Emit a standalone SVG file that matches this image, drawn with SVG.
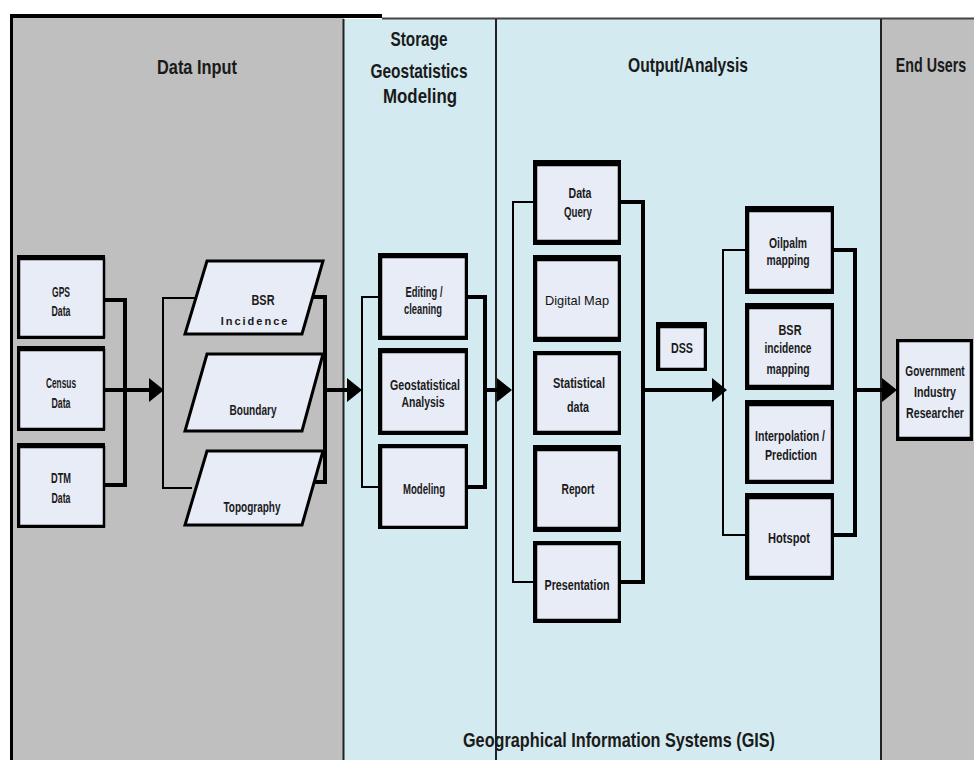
<svg xmlns="http://www.w3.org/2000/svg" width="974" height="760" viewBox="0 0 974 760">
<style>
.t{font-family:"Liberation Sans",Arial,sans-serif;font-weight:bold;fill:#1a1a1a;text-anchor:middle}
.h{font-size:21px}
.n{font-size:14px}
.box{fill:#e8ecf6;stroke:#000;stroke-width:2.5}
.sh{fill:#000}
.c{fill:none;stroke:#000;stroke-linejoin:miter}
.w2{stroke-width:2}
.w4{stroke-width:4}
.ah{fill:#000}
</style>
<rect width="974" height="760" fill="#fff"/>
<g id="panels">
<rect x="10" y="17" width="334" height="750" fill="#bfbfbf"/>
<rect x="344" y="19" width="152" height="750" fill="#d3eaf0"/>
<rect x="496" y="19" width="385" height="750" fill="#d3eaf0"/>
<rect x="881" y="19" width="93" height="750" fill="#bfbfbf"/>
<path d="M382,18.5 H974" stroke="#444" stroke-width="2" fill="none"/>
<rect x="10" y="14" width="372" height="4" fill="#000"/>
<rect x="10" y="14" width="3" height="750" fill="#000"/>
<path d="M343.5,19 V760 M496,19 V760 M881,19 V760" stroke="#222" stroke-width="2" fill="none"/>
<text class="t h" x="197" y="74" textLength="80" lengthAdjust="spacingAndGlyphs">Data Input</text>
<text class="t h" x="419" y="46" textLength="57" lengthAdjust="spacingAndGlyphs">Storage</text>
<text class="t h" x="419" y="78" textLength="97" lengthAdjust="spacingAndGlyphs">Geostatistics</text>
<text class="t h" x="420" y="103" textLength="74" lengthAdjust="spacingAndGlyphs">Modeling</text>
<text class="t h" x="688" y="72" textLength="120" lengthAdjust="spacingAndGlyphs">Output/Analysis</text>
<text class="t h" transform="translate(931,72) scale(0.68,1)" x="0" y="0">End Users</text>
<text class="t h" x="619" y="747" textLength="312" lengthAdjust="spacingAndGlyphs">Geographical Information Systems  (GIS)</text>
</g>
<g id="connectors">
<path class="c w4" d="M105,300 H125 V485 H105"/>
<path class="c w4" d="M105,390 H150"/>
<path class="c w2" d="M195,298 H163 V488 H192"/>
<path class="c w4" d="M310,297 H325 V482 H305"/>
<path class="c w4" d="M325,390 H348"/>
<path class="c w2" d="M380,297 H362 V487 H380"/>
<path class="c w4" d="M467,297 H485 V487 H467"/>
<path class="c w4" d="M485,390 H498"/>
<path class="c w2" d="M535,202 H513 V582 H535"/>
<path class="c w4" d="M620,202 H643 V582 H620"/>
<path class="c w4" d="M643,390 H713"/>
<path class="c w2" d="M747,250 H723 V535 H747"/>
<path class="c w4" d="M833,250 H855 V535 H833"/>
<path class="c w4" d="M855,390 H883"/>
<path class="ah" d="M149,378 L164,390 L149,402 Z M347,378 L362,390 L347,402 Z M497,378 L512,390 L497,402 Z M712,378 L727,390 L712,402 Z M882,378 L897,390 L882,402 Z"/>
</g>
<g id="gps"><rect class="sh" x="17" y="255" width="88" height="84"/><rect class="box" x="19" y="259" width="85" height="78"/><text class="t n" x="61" y="297" textLength="18" lengthAdjust="spacingAndGlyphs">GPS</text><text class="t n" x="61" y="316" textLength="19" lengthAdjust="spacingAndGlyphs">Data</text></g>
<g id="census"><rect class="sh" x="17" y="346" width="88" height="85"/><rect class="box" x="19" y="350" width="85" height="79"/><text class="t n" x="61" y="388" textLength="30" lengthAdjust="spacingAndGlyphs">Census</text><text class="t n" x="61" y="408" textLength="19" lengthAdjust="spacingAndGlyphs">Data</text></g>
<g id="dtm"><rect class="sh" x="17" y="443" width="88" height="85"/><rect class="box" x="19" y="447" width="85" height="79"/><text class="t n" x="61" y="483" textLength="20" lengthAdjust="spacingAndGlyphs">DTM</text><text class="t n" x="61" y="503" textLength="19" lengthAdjust="spacingAndGlyphs">Data</text></g>
<g id="bsr"><polygon class="box" points="207,261 323,261 302,334 185,334" style="stroke-width:3"/><text class="t n" x="263" y="305" textLength="23" lengthAdjust="spacingAndGlyphs">BSR</text><text class="t n" x="255" y="325" letter-spacing="2" style="font-size:11px">Incidence</text></g>
<g id="boundary"><polygon class="box" points="207,354 323,354 302,431 185,431" style="stroke-width:3"/><text class="t n" x="253" y="415" textLength="47" lengthAdjust="spacingAndGlyphs">Boundary</text></g>
<g id="topography"><polygon class="box" points="207,451 323,451 302,525 185,525" style="stroke-width:3"/><text class="t n" x="252" y="512" textLength="57" lengthAdjust="spacingAndGlyphs">Topography</text></g>
<g id="editing"><rect class="sh" x="378" y="253" width="90" height="87"/><rect class="box" x="381" y="257" width="85" height="80"/><text class="t n" x="424" y="297" textLength="37" lengthAdjust="spacingAndGlyphs">Editing /</text><text class="t n" x="423" y="314" textLength="38" lengthAdjust="spacingAndGlyphs">cleaning</text></g>
<g id="geostat"><rect class="sh" x="378" y="348" width="90" height="87"/><rect class="box" x="381" y="352" width="85" height="80"/><text class="t n" x="425" y="390" textLength="70" lengthAdjust="spacingAndGlyphs">Geostatistical</text><text class="t n" x="423" y="407" textLength="43" lengthAdjust="spacingAndGlyphs">Analysis</text></g>
<g id="modeling"><rect class="sh" x="378" y="444" width="90" height="85"/><rect class="box" x="381" y="447" width="85" height="80"/><text class="t n" x="424" y="494" textLength="42" lengthAdjust="spacingAndGlyphs">Modeling</text></g>
<g id="dataquery"><rect class="sh" x="533" y="160" width="88" height="85"/><rect class="box" x="536" y="165" width="83" height="76"/><text class="t n" x="580" y="198" textLength="23" lengthAdjust="spacingAndGlyphs">Data</text><text class="t n" x="578" y="217" textLength="28" lengthAdjust="spacingAndGlyphs">Query</text></g>
<g id="digitalmap"><rect class="sh" x="533" y="255" width="88" height="87"/><rect class="box" x="536" y="260" width="83" height="78"/><text x="577" y="305" style="font-family:'Liberation Sans',Arial,sans-serif;font-size:13.5px;fill:#111;text-anchor:middle" textLength="64" lengthAdjust="spacingAndGlyphs">Digital Map</text></g>
<g id="statdata"><rect class="sh" x="533" y="351" width="88" height="84"/><rect class="box" x="536" y="354" width="83" height="78"/><text class="t n" x="579" y="388" textLength="52" lengthAdjust="spacingAndGlyphs">Statistical</text><text class="t n" x="578" y="412" textLength="22" lengthAdjust="spacingAndGlyphs">data</text></g>
<g id="report"><rect class="sh" x="533" y="445" width="88" height="87"/><rect class="box" x="536" y="450" width="83" height="78"/><text class="t n" x="578" y="494" textLength="33" lengthAdjust="spacingAndGlyphs">Report</text></g>
<g id="presentation"><rect class="sh" x="533" y="541" width="88" height="82"/><rect class="box" x="536" y="544" width="83" height="76"/><text class="t n" x="577" y="590" textLength="65" lengthAdjust="spacingAndGlyphs">Presentation</text></g>
<g id="dss"><rect class="sh" x="656" y="322" width="51" height="49"/><rect class="box" x="659" y="327" width="46" height="42"/><text class="t n" x="682" y="353" textLength="22" lengthAdjust="spacingAndGlyphs">DSS</text></g>
<g id="oilpalm"><rect class="sh" x="745" y="206" width="89" height="88"/><rect class="box" x="748" y="211" width="84" height="79"/><text class="t n" x="788" y="248" textLength="38" lengthAdjust="spacingAndGlyphs">Oilpalm</text><text class="t n" x="788" y="265" textLength="43" lengthAdjust="spacingAndGlyphs">mapping</text></g>
<g id="bsrmap"><rect class="sh" x="745" y="303" width="89" height="87"/><rect class="box" x="748" y="308" width="84" height="78"/><text class="t n" x="790" y="335" textLength="23" lengthAdjust="spacingAndGlyphs">BSR</text><text class="t n" x="788" y="353" textLength="47" lengthAdjust="spacingAndGlyphs">incidence</text><text class="t n" x="788" y="374" textLength="43" lengthAdjust="spacingAndGlyphs">mapping</text></g>
<g id="interp"><rect class="sh" x="745" y="400" width="89" height="84"/><rect class="box" x="748" y="405" width="84" height="76"/><text class="t n" x="790" y="441" textLength="70" lengthAdjust="spacingAndGlyphs">Interpolation /</text><text class="t n" x="791" y="460" textLength="52" lengthAdjust="spacingAndGlyphs">Prediction</text></g>
<g id="hotspot"><rect class="sh" x="745" y="493" width="89" height="87"/><rect class="box" x="748" y="498" width="84" height="79"/><text class="t n" x="789" y="543" textLength="42" lengthAdjust="spacingAndGlyphs">Hotspot</text></g>
<g id="endusers"><rect class="sh" x="896" y="339" width="77" height="102"/><rect class="box" x="898" y="341" width="73" height="97"/><text class="t n" transform="translate(935,376) scale(0.72,1)" x="0" y="0">Government</text><text class="t n" x="935" y="397" textLength="42" lengthAdjust="spacingAndGlyphs">Industry</text><text class="t n" transform="translate(935,418) scale(0.76,1)" x="0" y="0">Researcher</text></g>
</svg>
